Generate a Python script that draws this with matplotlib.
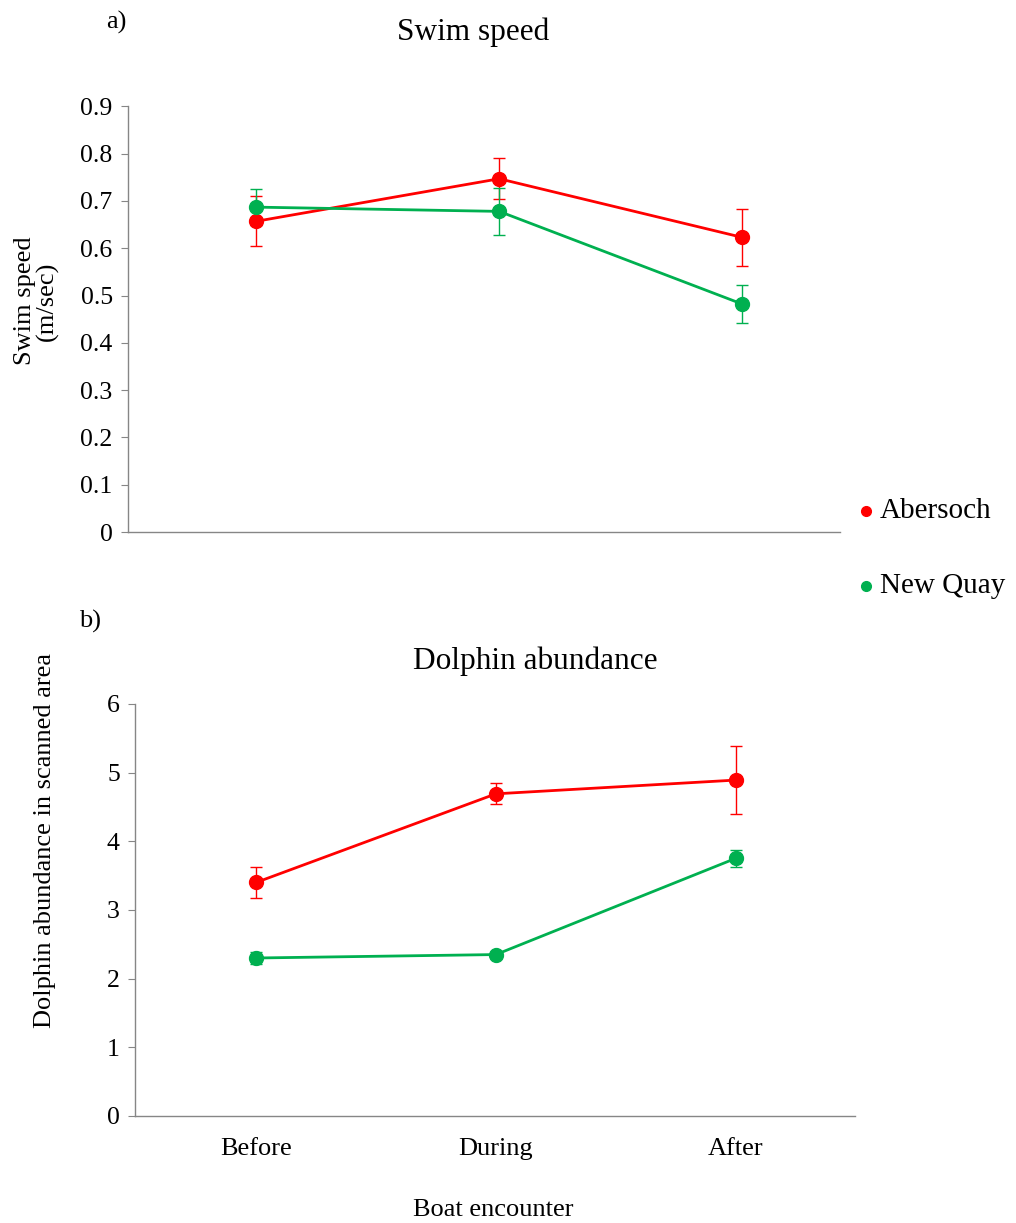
import numpy as np
import matplotlib.pyplot as plt

plt.rcParams['font.family'] = ['Liberation Serif', 'DejaVu Serif']

# Boat encounter phases
phases = ['Before', 'During', 'After']
sites = ['Abersoch', 'New Quay']
site_colors = ['#FF0000', '#00B050']

# a) swim speed (m/sec), mean and error
speed_abersoch = [0.657, 0.747, 0.623]
speed_abersoch_err = [0.053, 0.043, 0.061]
speed_newquay = [0.687, 0.678, 0.482]
speed_newquay_err = [0.038, 0.049, 0.040]

# b) dolphin abundance in scanned area, mean and error
abund_abersoch = [3.40, 4.69, 4.89]
abund_abersoch_err = [0.22, 0.155, 0.49]
abund_newquay = [2.30, 2.35, 3.75]
abund_newquay_err = [0.09, 0.04, 0.12]

speed_ticks = [0, 0.1, 0.2, 0.3, 0.4, 0.5, 0.6, 0.7, 0.8, 0.9]
abund_ticks = [0, 1, 2, 3, 4, 5, 6]

fig = plt.figure(figsize=(10.16, 12.23), dpi=100)
ax1 = fig.add_axes([0.126, 0.565, 0.701, 0.348])
ax2 = fig.add_axes([0.133, 0.0875, 0.709, 0.337])

x = np.arange(len(phases))


def draw_series(ax, means, errs, color):
    ax.errorbar(x, means, yerr=errs, color=color, lw=2.0, marker='o',
                markersize=10, elinewidth=1.0, capsize=4, capthick=1.0,
                ecolor=color, zorder=3)


def style_axes(ax):
    for side in ['top', 'right']:
        ax.spines[side].set_visible(False)
    for side in ['left', 'bottom']:
        ax.spines[side].set_color('#868686')
        ax.spines[side].set_linewidth(1.0)
    ax.tick_params(axis='y', direction='out', length=5, color='#868686',
                   labelsize=18.5, pad=6)
    ax.tick_params(axis='x', length=0, labelsize=19, pad=16)


draw_series(ax1, speed_abersoch, speed_abersoch_err, site_colors[0])
draw_series(ax1, speed_newquay, speed_newquay_err, site_colors[1])
ax1.set_xlim(-0.527, 2.403)
ax1.set_ylim(0, 0.9)
ax1.set_yticks(speed_ticks)
ax1.set_yticklabels(['0'] + [f'{t:.1f}' for t in speed_ticks[1:]])
ax1.set_xticks([])
style_axes(ax1)

draw_series(ax2, abund_abersoch, abund_abersoch_err, site_colors[0])
draw_series(ax2, abund_newquay, abund_newquay_err, site_colors[1])
ax2.set_xlim(-0.505, 2.5)
ax2.set_ylim(0, 6)
ax2.set_yticks(abund_ticks)
ax2.set_xticks(x)
ax2.set_xticklabels(phases)
style_axes(ax2)

# titles, panel letters and axis labels
fig.text(0.466, 0.9735, 'Swim speed', ha='center', va='center', fontsize=22.5)
fig.text(0.104, 0.9815, 'a)', ha='left', va='center', fontsize=19)
fig.text(0.036, 0.754, 'Swim speed\n(m/sec)', ha='center', va='center',
         rotation=90, fontsize=19, linespacing=1.0)

fig.text(0.527, 0.4595, 'Dolphin abundance', ha='center', va='center', fontsize=22.5)
fig.text(0.078, 0.492, 'b)', ha='left', va='center', fontsize=19)
fig.text(0.044, 0.313, 'Dolphin abundance in scanned area', ha='center',
         va='center', rotation=90, fontsize=19)
fig.text(0.485, 0.0105, 'Boat encounter', ha='center', va='center', fontsize=19)

# legend entries
for i, (name, color) in enumerate(zip(sites, site_colors)):
    ypos = 1 - (511 + 75 * i) / 1223
    fig.lines.append(plt.Line2D([0.852], [ypos], marker='o', markersize=7,
                                color=color, transform=fig.transFigure))
    fig.text(0.866, ypos, name, ha='left', va='center', fontsize=21)

fig.savefig('out.png', dpi=100)
